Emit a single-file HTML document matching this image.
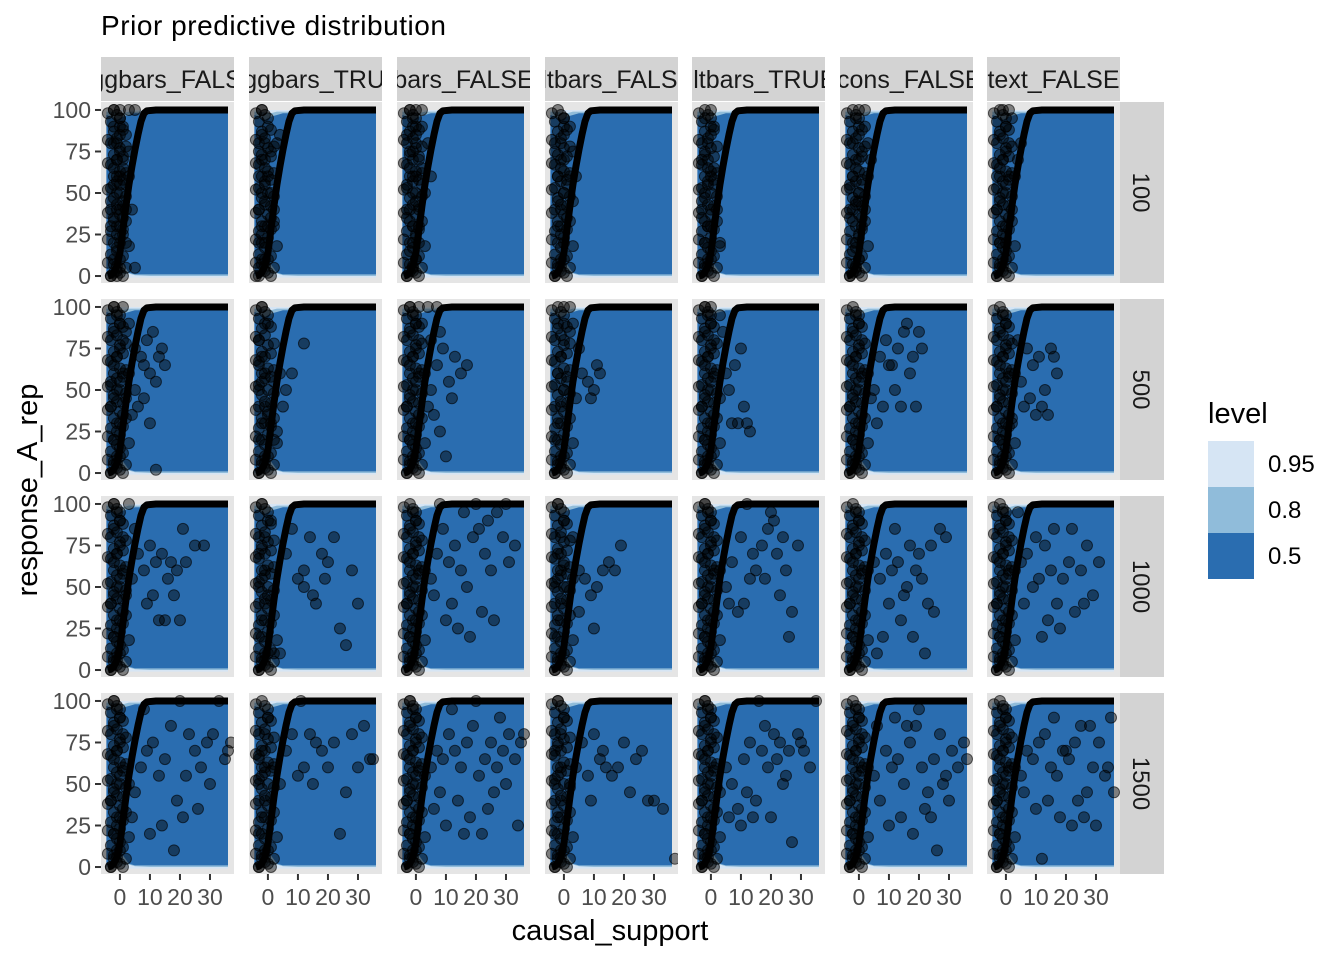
<!DOCTYPE html>
<html><head><meta charset="utf-8"><style>
body{margin:0;background:#fff;}
svg{display:block;font-family:"Liberation Sans",Arial,sans-serif;}
</style></head><body>
<svg id="chart" width="1344" height="960" viewBox="0 0 1344 960" xmlns="http://www.w3.org/2000/svg">
<text x="101" y="35" font-size="28" fill="#000" textLength="345">Prior predictive distribution</text>
<text x="610" y="940" font-size="29" text-anchor="middle" fill="#000">causal_support</text>
<text transform="translate(37,490) rotate(-90)" font-size="29" text-anchor="middle" fill="#000">response_A_rep</text>
<g id="panels"></g>
<g>
<text x="1208" y="423" font-size="29" fill="#000">level</text>
<rect x="1208" y="441" width="46" height="46" fill="#d6e5f4"/>
<rect x="1208" y="487" width="46" height="46" fill="#90bcda"/>
<rect x="1208" y="533" width="46" height="46" fill="#2a6db0"/>
<text x="1268" y="472" font-size="24" fill="#000">0.95</text>
<text x="1268" y="518" font-size="24" fill="#000">0.8</text>
<text x="1268" y="564" font-size="24" fill="#000">0.5</text>
</g>
</svg>
<script>
const colLabels = ["aggbars_FALSE","aggbars_TRUE","bars_FALSE","filtbars_FALSE","filtbars_TRUE","icons_FALSE","text_FALSE"];
const rowLabels = ["100","500","1000","1500"];
const xTicks = [0,10,20,30];
const yTicks = [0,25,50,75,100];
const curveX = [-4,-3,-2,-1,0,1,2,3,4,5,6,7,8,9,12,20,36];
const curveY = [0,0.5,2,6,14,28,42,55,66,76,85,93,98,99.5,100,100,100];
const bandX = [-4.5,-3,-1,1,3,5,10,20,30,36];
const band95Lo = [-1,-1,-1,-1,-1,-1,-1,-1,-1,-1];
const band95Hi = [100,100,100,100,100,100,100,100,100,100];
const band80Lo = [0,0.3,0.5,1,1.5,0.5,0,0,0,0];
const band80Hi = [99,99,98.5,98,99,99,99,99,99,99];
const band50Lo = [1,2,4,7,2,1,1,1,1,1];
const band50Hi = [97,96,94,96,97,98,98,98,98,98];
const clusterA = "-3,0 -1,3 -2,7 0,10 -3,13 -1,17 -2,20 0,23 -3,27 -1,30 -2,33 0,37 -3,40 -1,43 -2,47 0,50 -3,53 -1,57 -2,60 0,63 -3,67 -1,70 -2,73 0,77 -3,80 -1,83 -2,87 0,90 -3,93 -1,97 -2,100";
const clusterB = "1,0 2,5 -4,8 1,12 3,18 -4,22 1,28 2,33 -4,38 1,42 2,48 -4,52 1,58 2,62 -4,68 1,72 2,78 -4,82 1,88 0,95 -4,98 0,2 -1,6";
const pointsR1 = [
"-3,0 -2,2 -1,0 0,5 -2,10 -1,15 0,20 1,25 -3,30 -2,35 0,40 1,45 -1,50 2,55 0,60 -2,65 1,70 0,75 -1,80 2,85 -2,90 0,95 -2,100 0,100 3,100 5,100 -3,45 -1,60 1,35 3,60 2,40 4,40 -2,80 0,85 1,90 -1,70 0,30 -1,40 2,20 5,5 0,55 -2,55 1,65 3,75 -1,25",
"-4,0 -3,5 -2,10 -1,20 -2,30 -3,40 -1,45 -2,50 -1,55 -3,60 -1,65 -2,70 -3,75 -1,80 -2,85 0,30 1,35 2,40 4,85 3,80 -2,100 1,50 2,30 -3,20 -1,10 0,60 1,75 -2,25",
"-3,0 -2,3 -1,5 0,10 -2,15 -1,20 0,25 1,30 -3,35 -2,40 0,45 -1,50 2,55 0,60 -2,65 1,70 -1,75 0,80 -3,85 2,90 -1,95 0,100 -2,100 2,100 -3,55 -1,60 1,40 3,50 2,65 -1,30 0,85 4,80 5,60 -2,75 1,20 -1,90",
"-3,0 -2,5 -1,10 0,20 -2,30 -1,40 0,50 1,55 -2,60 -1,65 0,70 -3,75 -1,80 2,60 3,45 1,35 -2,45 0,85 4,60 3,75 -1,25 0,95 2,90",
"-3,0 -2,5 -1,10 0,15 -2,20 -1,30 0,40 -3,45 -2,50 -1,55 0,60 1,65 -3,70 -2,75 -1,80 0,85 1,90 -2,95 0,100 2,40 3,20 -3,35 1,55 -1,65 0,30",
"-3,0 -2,2 -1,5 0,10 -2,15 -1,20 0,25 1,30 -3,35 -2,40 -1,45 0,50 1,55 -2,60 -1,65 0,70 1,75 -2,80 0,85 2,90 -1,95 0,100 2,100 3,60 2,40 4,70 1,35 -3,55 0,45 3,80",
"-3,0 -2,5 -1,10 0,15 -2,20 -1,25 0,30 1,35 -3,40 -2,45 -1,50 0,55 1,60 -2,65 -1,70 0,75 1,80 -2,85 0,90 2,95 -1,100 1,100 3,60 2,40 4,70 5,80 -3,60 0,20"
];
const pointsR2 = [
"-3,0 -2,5 -1,10 0,15 -2,20 -1,25 0,30 1,35 -3,40 -2,45 -1,50 0,55 1,60 -2,65 -1,70 0,75 1,80 -2,85 0,90 -1,95 -2,100 1,100 3,60 5,50 7,70 9,80 11,85 13,70 10,60 8,45 6,40 4,35 12,55 14,75 2,85 15,65 10,30 12,2 8,65 5,75 3,90 -3,55 2,45",
"-3,0 -2,5 -1,10 -3,20 -2,30 -1,40 -3,50 -2,55 -1,60 -3,65 -2,70 0,35 1,30 3,25 2,55 4,60 -2,100 -1,90 6,50 5,40 8,60 12,78 2,20 -3,80",
"-3,0 -2,5 -1,10 0,15 -2,20 -1,25 0,30 1,35 -3,40 -2,45 -1,50 0,55 1,60 -2,65 -1,70 0,75 1,80 -2,85 0,90 -1,95 -2,100 1,100 4,100 7,100 3,60 5,50 7,65 9,75 11,55 13,70 15,60 6,35 8,25 10,10 4,40 2,90 12,45 17,65 5,80 8,85",
"-3,0 -2,5 -1,10 -3,20 -2,30 -1,40 0,50 1,55 -2,60 -1,70 0,80 2,85 3,90 5,75 6,60 8,55 10,50 12,60 4,45 -2,90 0,100 2,100 9,45 11,65",
"-3,0 -2,5 -1,10 0,15 -2,20 -1,25 0,30 1,35 -3,40 -2,45 -1,50 0,55 1,60 -2,65 -1,70 0,75 1,80 -2,85 0,90 -1,95 -2,100 0,100 3,45 5,60 7,30 9,30 11,40 13,25 10,75 8,65 4,85 6,50 12,30 3,95",
"-3,0 -2,5 -1,10 0,15 -2,20 -1,25 0,30 1,35 -3,40 -2,45 -1,50 0,55 1,60 -2,65 -1,70 0,75 1,80 -2,85 0,90 -1,95 3,60 5,50 7,70 9,80 11,65 13,75 15,85 17,60 19,40 21,75 14,40 8,40 6,30 12,50 16,90 20,85 4,45 10,65 18,70",
"-3,0 -2,5 -1,10 0,15 -2,20 -1,25 0,30 1,35 -3,40 -2,45 -1,50 0,55 1,60 -2,65 -1,70 0,75 1,80 -2,85 0,90 -1,95 3,60 5,55 7,75 9,65 11,70 13,50 15,75 17,60 6,40 8,45 10,35 12,40 14,35 4,80 16,70 2,30"
];
const pointsR3 = [
"-3,0 -2,5 -1,10 0,15 -2,20 -1,25 0,30 1,35 -3,40 -2,45 -1,50 0,55 1,60 -2,65 -1,70 0,75 1,80 -2,85 0,90 -1,95 -2,100 2,45 4,55 6,70 8,60 10,75 12,65 14,70 16,55 18,45 20,30 22,65 25,75 28,75 9,40 11,45 13,30 15,30 17,65 19,60 21,85 5,85 3,100",
"-3,0 -2,5 -1,10 -3,20 -2,30 -1,40 -3,50 -2,55 -1,60 -3,70 -2,75 -1,80 0,45 1,90 -2,100 2,10 4,10 6,70 8,85 10,55 12,60 14,80 16,40 18,70 20,65 22,80 24,25 26,15 28,60 30,40 15,45 12,50 19,55",
"-3,0 -2,5 -1,10 0,15 -2,20 -1,25 0,30 1,35 -3,40 -2,45 -1,50 0,55 1,60 -2,65 -1,70 0,75 1,80 -2,85 0,90 -1,95 3,60 5,55 7,70 9,85 11,65 13,75 15,60 17,50 19,80 21,85 23,70 25,60 27,95 29,80 31,65 33,75 10,30 14,25 18,20 22,35 26,30 6,45 12,40 16,95 20,100 24,90 8,100 30,100",
"-3,0 -2,5 -1,10 -3,20 -2,30 -1,40 -3,50 -2,55 -1,60 0,65 -2,70 -1,80 0,90 -2,100 1,50 3,55 5,60 7,55 9,45 11,50 13,60 15,65 17,60 19,75 5,35 10,25 3,80",
"-3,0 -2,5 -1,10 0,15 -2,20 -1,25 0,30 1,35 -3,40 -2,45 -1,50 0,55 1,60 -2,65 -1,70 0,75 1,80 -2,85 0,90 -1,95 -2,100 3,60 5,50 7,65 9,35 11,40 13,55 15,60 17,75 19,85 21,90 23,45 25,60 27,35 29,75 10,80 14,70 18,55 22,70 26,20 6,40 12,100 20,95 24,80",
"-3,0 -2,5 -1,10 0,15 -2,20 -1,25 0,30 1,35 -3,40 -2,45 -1,50 0,55 1,60 -2,65 -1,70 0,75 1,80 -2,85 0,90 -1,95 3,60 5,65 7,55 9,70 11,60 13,65 15,45 17,75 19,60 21,55 23,40 25,35 27,85 29,80 10,40 14,30 18,20 22,10 12,85 16,50 20,70 24,75 8,20 6,10",
"-3,0 -2,5 -1,10 0,15 -2,20 -1,25 0,30 1,35 -3,40 -2,45 -1,50 0,55 1,60 -2,65 -1,70 0,75 1,80 -2,85 0,90 -1,95 3,60 5,65 7,70 9,50 11,55 13,75 15,60 17,40 19,55 21,65 23,35 25,60 27,75 29,45 31,65 10,80 14,30 18,25 22,85 26,40 6,40 12,20 16,85 4,95"
];
const pointsR4 = [
"-3,0 -2,5 -1,10 0,15 -2,20 -1,25 0,30 1,35 -3,40 -2,45 -1,50 0,55 1,60 -2,65 -1,70 0,75 1,80 -2,85 0,90 -1,95 -2,100 3,50 5,45 7,60 9,70 11,75 13,55 15,65 17,85 19,40 21,30 23,80 25,70 27,60 29,75 31,80 33,100 35,65 37,75 10,20 14,25 18,10 22,55 26,35 30,50 20,100 36,70 4,30 8,95",
"-3,0 -2,5 -1,10 -3,20 -2,30 -1,40 -3,50 -2,55 -1,60 -3,65 -2,70 -1,80 0,90 2,60 4,50 6,70 8,80 10,55 12,60 14,80 16,75 18,70 20,60 22,75 24,20 26,45 28,80 30,60 32,85 34,65 35,65 15,50 11,100",
"-3,0 -2,5 -1,10 0,15 -2,20 -1,25 0,30 1,35 -3,40 -2,45 -1,50 0,55 1,60 -2,65 -1,70 0,75 1,80 -2,85 0,90 -1,95 -2,100 3,55 5,60 7,70 9,65 11,80 13,70 15,60 17,75 19,85 21,55 23,65 25,75 27,60 29,70 31,80 33,65 35,75 36,80 10,25 14,40 18,30 22,20 26,45 30,50 34,25 6,35 12,95 20,100 28,90 16,20 24,35 8,45",
"-3,0 -2,5 -1,10 -3,20 -2,30 -1,40 -3,50 -2,55 -1,60 -3,70 -2,75 -1,80 0,90 -2,100 2,50 4,60 6,75 8,55 10,80 12,65 14,60 16,55 18,60 20,75 22,45 24,65 26,70 28,40 30,40 33,35 37,5 9,40 13,70",
"-3,0 -2,5 -1,10 0,15 -2,20 -1,25 0,30 1,35 -3,40 -2,45 -1,50 0,55 1,60 -2,65 -1,70 0,75 1,80 -2,85 0,90 -1,95 -2,100 3,45 5,60 7,50 9,35 11,65 13,75 15,40 17,70 19,60 21,80 23,75 25,55 27,15 29,80 31,70 33,60 35,100 10,25 14,30 18,85 22,65 26,70 6,30 12,45 16,100 20,30 24,50 30,75",
"-3,0 -2,5 -1,10 0,15 -2,20 -1,25 0,30 1,35 -3,40 -2,45 -1,50 0,55 1,60 -2,65 -1,70 0,75 1,80 -2,85 0,90 -1,95 3,60 5,55 7,40 9,70 11,60 13,65 15,50 17,75 19,85 21,60 23,45 25,65 27,80 29,55 31,70 33,60 35,75 36,65 10,25 14,30 18,20 22,35 26,10 30,40 6,85 12,90 16,85 20,95 24,30 28,50",
"-3,0 -2,5 -1,10 0,15 -2,20 -1,25 0,30 1,35 -3,40 -2,45 -1,50 0,55 1,60 -2,65 -1,70 0,75 1,80 -2,85 0,90 -1,95 3,60 5,55 7,70 9,65 11,75 13,80 15,60 17,55 19,70 21,65 23,75 25,85 27,45 29,60 31,75 33,55 35,90 36,45 10,35 14,40 18,30 22,25 26,30 30,25 6,45 12,5 16,90 20,70 24,40 28,85 34,60"
];
const allPoints = [pointsR1, pointsR2, pointsR3, pointsR4];

const NS = "http://www.w3.org/2000/svg";
const panelX0 = [101,249,397,545,692,840,987];
const panelY0 = [102,299,496,693];
const PW = 133, PH = 181;
const xMin = -6.3, xMax = 38;
const yMin = -4.2, yMax = 104.8;
const root = document.getElementById("panels");
function mk(tag, attrs, parent){const e=document.createElementNS(NS,tag);for(const k in attrs)e.setAttribute(k,attrs[k]);parent.appendChild(e);return e;}

for(let r=0;r<4;r++){
  for(let c=0;c<7;c++){
    const x0=panelX0[c], y0=panelY0[r];
    const sx=v=>x0+(v-xMin)/(xMax-xMin)*PW;
    const sy=v=>y0+PH-(v-yMin)/(yMax-yMin)*PH;
    const g=mk("g",{},root);
    
    
    const bg=mk("rect",{x:x0,y:y0,width:PW,height:PH,fill:"#e5e5e5"},g);
    
    
    const clipId="clip"+r+"_"+c;
    const cp=mk("clipPath",{id:clipId},g);
    mk("rect",{x:x0,y:y0,width:PW,height:PH},cp);
    const inner=mk("g",{"clip-path":"url(#"+clipId+")"},g);
    const bands=[[band95Lo,band95Hi,"#d6e5f4","band-095"],[band80Lo,band80Hi,"#90bcda","band-08"],[band50Lo,band50Hi,"#2a6db0","band-05"]];
    bands.forEach(b=>{
      let pts=[];
      for(let i=0;i<bandX.length;i++)pts.push(sx(bandX[i])+","+sy(b[1][i]));
      for(let i=bandX.length-1;i>=0;i--)pts.push(sx(bandX[i])+","+sy(b[0][i]));
      const p=mk("polygon",{points:pts.join(" "),fill:b[2]},inner);
      
      
    });
    const pg=mk("g",{},inner);
    
    
    (clusterA+" "+clusterB+" "+allPoints[r][c]).trim().split(/\s+/).forEach(s=>{
      const [px,py]=s.split(",").map(Number);
      const ci=mk("circle",{cx:sx(px),cy:sy(py),r:5.5,fill:"rgba(0,0,0,0.45)",stroke:"rgba(0,0,0,0.6)","stroke-width":1},pg);
      
      
    });
    const line=mk("polyline",{points:curveX.map((v,i)=>sx(v)+","+sy(curveY[i])).join(" "),fill:"none",stroke:"#000","stroke-width":7,"stroke-linejoin":"round"},inner);
    
    
    if(r===0){
      const st=mk("rect",{x:x0,y:57,width:PW,height:44,fill:"#d3d3d3"},g);
      
      
      const scid="sclip"+c;
      const scp=mk("clipPath",{id:scid},g);
      mk("rect",{x:x0,y:57,width:PW,height:44},scp);
      const t=mk("text",{x:x0+PW/2,y:88,"font-size":25,"text-anchor":"middle",fill:"#1a1a1a","clip-path":"url(#"+scid+")"},g);
      t.textContent=colLabels[c];
      
      
    }
    if(c===6){
      const st=mk("rect",{x:1120,y:y0,width:44,height:PH,fill:"#d3d3d3"},g);
      
      
      const t=mk("text",{transform:"translate(1133,"+(y0+PH/2)+") rotate(90)","font-size":24,"text-anchor":"middle",fill:"#1a1a1a"},g);
      t.textContent=rowLabels[r];
      
      
    }
    if(c===0){
      yTicks.forEach(v=>{
        const tk=mk("line",{x1:x0-6,x2:x0,y1:sy(v),y2:sy(v),stroke:"#333","stroke-width":2},g);
        
        
        const tl=mk("text",{x:x0-10,y:sy(v)+8,"font-size":23,"text-anchor":"end",fill:"#4d4d4d"},g);
        tl.textContent=v;
        
        
      });
    }
    if(r===3){
      xTicks.forEach(v=>{
        const tk=mk("line",{x1:sx(v),x2:sx(v),y1:y0+PH,y2:y0+PH+6,stroke:"#333","stroke-width":2},g);
        
        
        const tl=mk("text",{x:sx(v),y:y0+PH+31,"font-size":23,"text-anchor":"middle",fill:"#4d4d4d"},g);
        tl.textContent=v;
        
        
      });
    }
  }
}
</script>
</body></html>
